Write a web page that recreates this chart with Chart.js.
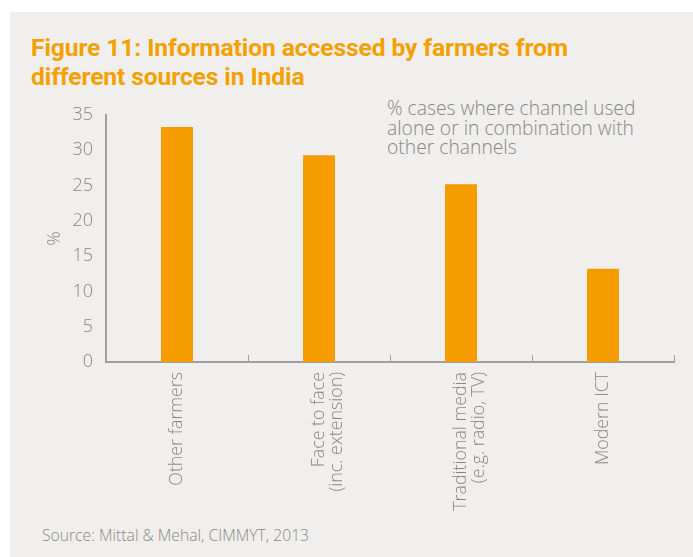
<!DOCTYPE html>
<html>
<head>
<meta charset="utf-8">
<script src="https://cdn.jsdelivr.net/npm/chart.js@4"></script>
<style>
  body { margin: 0; background: #ffffff; font-family: "Open Sans", sans-serif; }
  #wrap { position: relative; width: 693px; height: 557px; overflow: hidden; }
  #panel { position: absolute; left: 10px; top: 12px; right: 0; bottom: 0; background: #f0efed; }
  #title { position: absolute; left: 31px; top: 33px; margin: 0; font-family: "Roboto", sans-serif;
           font-weight: bold; font-size: 24.6px; line-height: 29px; letter-spacing: -0.1px; color: #f4a100; }
  #note { position: absolute; left: 387px; top: 98px; font-size: 19.3px; line-height: 19.5px; font-weight: 300; color: #8a877f; }
  #source { position: absolute; left: 42px; top: 524px; font-size: 15.7px; font-weight: 300; color: #8a877f; }
  canvas { position: absolute; left: 0; top: 0; }
</style>
</head>
<body>
<div id="wrap">
  <div id="panel"></div>
  <h1 id="title">Figure 11: Information accessed by farmers from<br>different sources in India</h1>
  <div id="note">% cases where channel used<br>alone or in combination with<br>other channels</div>
  <div id="source">Source: Mittal &amp; Mehal, CIMMYT, 2013</div>
  <canvas id="barChart" width="693" height="557"></canvas>
</div>
<script>
// Data
var categories = [
    ['Other farmers'],
    ['Face to face', '(inc. extension)'],
    ['Traditional media', '(e.g. radio, TV)'],
    ['Modern ICT']
];
var shares = [33.3, 29.3, 25.2, 13.2];
var yMin = 0;
var yMax = 35;
var yStep = 5;

var gray = '#8a877f';
var axisGray = '#a09f9b';

// small upward ticks at the category boundaries
var boundaryTicks = {
    id: 'boundaryTicks',
    afterDatasetsDraw: function (chart) {
        var x = chart.scales.x;
        var ctx = chart.ctx;
        var bottom = chart.chartArea.bottom;
        ctx.save();
        ctx.strokeStyle = axisGray;
        ctx.lineWidth = 1;
        for (var i = 0; i < categories.length; i++) {
            var half = (x.getPixelForValue(1) - x.getPixelForValue(0)) / 2;
            var px = Math.round(x.getPixelForValue(i) + half) + 0.5;
            ctx.beginPath();
            ctx.moveTo(px, bottom);
            ctx.lineTo(px, bottom - 7);
            ctx.stroke();
        }
        ctx.restore();
    }
};

var barCtx = document.getElementById('barChart').getContext('2d');
var barChart = new Chart(barCtx, {
    type: 'bar',
    data: {
        labels: categories,
        datasets: [{
            data: shares,
            backgroundColor: '#f59c00',
            barPercentage: 0.225,
            categoryPercentage: 1
        }]
    },
    plugins: [boundaryTicks],
    options: {
        responsive: false,
        animation: false,
        layout: {
            padding: { left: 44, top: 115, right: 19, bottom: 0 }
        },
        plugins: {
            legend: { display: false },
            tooltip: { enabled: false }
        },
        scales: {
            x: {
                afterFit: function (s) { s.height = 195; },
                grid: { display: false, drawTicks: false },
                border: { display: true, color: axisGray, width: 2 },
                ticks: {
                    minRotation: 90,
                    maxRotation: 90,
                    padding: 10,
                    color: gray,
                    font: { family: 'Open Sans', size: 17.8, weight: 300, lineHeight: 1.0 }
                }
            },
            y: {
                min: yMin,
                max: yMax,
                afterFit: function (s) { s.width = 62; },
                grid: { display: false, drawTicks: false },
                border: { display: true, color: axisGray, width: 2 },
                ticks: {
                    stepSize: yStep,
                    padding: 13,
                    color: gray,
                    font: { family: 'Open Sans', size: 18, weight: 300 }
                },
                title: {
                    display: true,
                    text: '%',
                    color: gray,
                    padding: 0,
                    font: { family: 'Open Sans', size: 18, weight: 300 }
                }
            }
        }
    }
});
</script>
</body>
</html>
